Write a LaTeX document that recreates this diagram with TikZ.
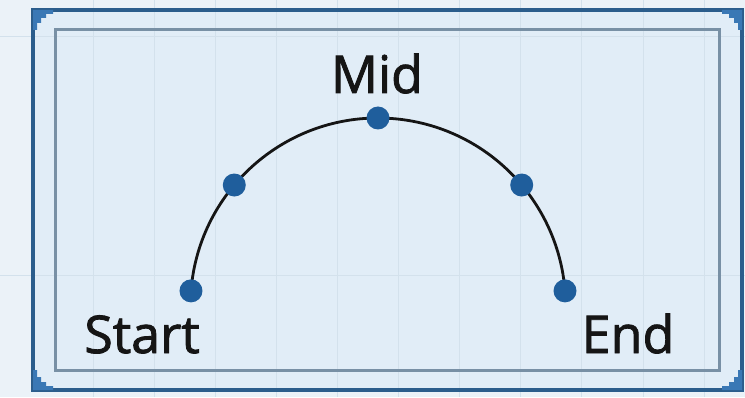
\documentclass[tikz,border=0pt]{standalone}
\usepackage{fontspec}
\setmainfont{Open Sans}
\newfontfamily\tagfont[FakeBold=1.6]{Open Sans}
\usetikzlibrary{calc}
\definecolor{paper}{HTML}{EBF2F8}
\definecolor{panel}{HTML}{E1EDF7}
\definecolor{gridline}{HTML}{D3E1EC}
\definecolor{frameblue}{HTML}{2B5D8C}
\definecolor{framegray}{HTML}{7890A5}
\definecolor{cornerblue}{HTML}{3A78B5}
\definecolor{dotblue}{HTML}{1F5E9C}
\definecolor{ink}{HTML}{151515}

\tikzset{
  dot/.style={circle, fill=dotblue, minimum size=23pt, inner sep=0pt},
  arcline/.style={draw=ink, line width=2.8pt},
  tag/.style={anchor=base, text=ink, font=\tagfont\fontsize{52}{60}\selectfont}
}

\begin{document}
\begin{tikzpicture}[x=1pt, y=1pt]
  \useasboundingbox (0,0) rectangle (745,397);
  % Background and grid
  \fill[paper] (0,0) rectangle (745,397);
  \fill[panel] (33,7) rectangle (742,387);
  \foreach \k in {1,...,11}
    \draw[gridline, line width=1pt] ({32+61.1*\k},0) -- ({32+61.1*\k},397);
  \foreach \gy in {122,360}
    \draw[gridline, line width=1pt] (0,\gy) -- (745,\gy);
  % Frames
  \draw[frameblue, line width=4pt] (33,7) rectangle (742,387);
  \draw[framegray, line width=3pt] (55,27) rectangle (719,367);
  \foreach \cx/\cy/\ang in {33/387/0, 742/387/-90, 742/7/180, 33/7/90}
    \fill[cornerblue, shift={(\cx,\cy)}, rotate=\ang]
      (0,0) -- (20,0) -- (20,-4) -- (13,-4) -- (13,-8) -- (8,-8)
      -- (8,-13) -- (4,-13) -- (4,-20) -- (0,-20) -- cycle;
  % Arc
  \coordinate (c) at (378,91.4);
  \coordinate (s) at ($(c)+(175.5:187.6)$);
  \coordinate (q1) at ($(c)+(140:187.6)$);
  \coordinate (m) at ($(c)+(90:187.6)$);
  \coordinate (q2) at ($(c)+(40:187.6)$);
  \coordinate (e) at ($(c)+(4.5:187.6)$);
  \draw[arcline] (s) arc[start angle=175.5, end angle=4.5, radius=187.6];
  % Points
  \node[dot] (start) at (s) {};
  \node[dot] (left) at (q1) {};
  \node[dot] (mid) at (m) {};
  \node[dot] (right) at (q2) {};
  \node[dot] (end) at (e) {};
  % Labels
  \node[tag] (midlabel) at (377,304) {Mid};
  \node[tag] (startlabel) at (142,44) {Start};
  \node[tag] (endlabel) at (628,44) {End};
\end{tikzpicture}
\end{document}
